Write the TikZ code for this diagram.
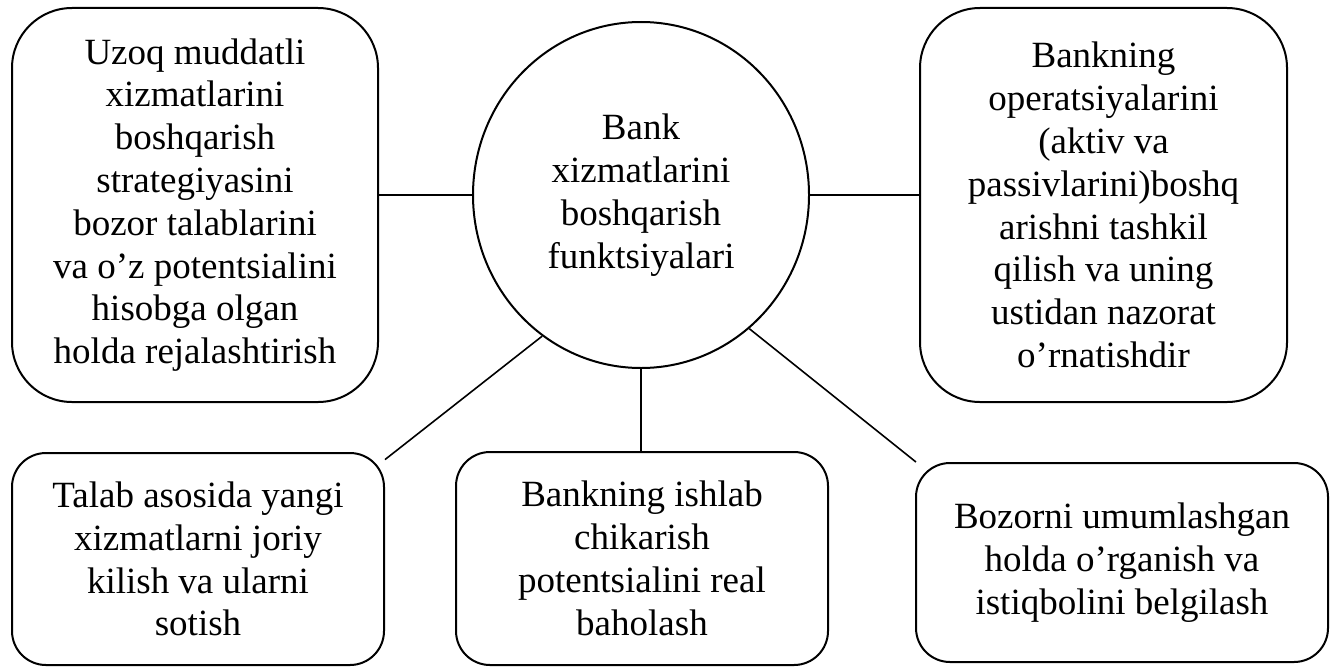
\documentclass[tikz,border=0pt]{standalone}
\usepackage{fontspec}
\setmainfont{Liberation Serif}
\usetikzlibrary{shapes.geometric}

\begin{document}
\begin{tikzpicture}[x=1pt,y=1pt]
    \tikzstyle{funcbox}=[draw,line width=1pt,rounded corners=30pt,align=center,
      inner sep=0pt,font=\fontsize{18.5}{21.4}\selectfont]
    \tikzstyle{lowbox}=[funcbox,rounded corners=17pt]
    \tikzstyle{link}=[line width=0.8pt]
    \useasboundingbox (0,0) rectangle (668,333);
    \node[funcbox,ellipse,minimum width=168pt,minimum height=173pt] (core)
      at (320.5,235.5) {Bank\\xizmatlarini\\boshqarish\\funktsiyalari};
    \node[funcbox,minimum width=183pt,minimum height=197pt] (tl) at (97.5,230.5)
      {Uzoq muddatli\\xizmatlarini\\boshqarish\\strategiyasini\\bozor talablarini\\va o’z potentsialini\\hisobga olgan\\holda rejalashtirish};
    \node[funcbox,minimum width=183.5pt,minimum height=197pt] (tr) at (551.75,230.5)
      {Bankning\\operatsiyalarini\\(aktiv va\\passivlarini)boshq\\arishni tashkil\\qilish va uning\\ustidan nazorat\\o’rnatishdir};
    \node[lowbox,minimum width=186pt,minimum height=106pt] (bl) at (99,53.5)
      {Talab asosida yangi\\xizmatlarni joriy\\kilish va ularni\\sotish};
    \node[lowbox,minimum width=186pt,minimum height=106.5pt] (bm) at (321,53.75)
      {Bankning ishlab\\chikarish\\potentsialini real\\baholash};
    \node[lowbox,minimum width=206pt,minimum height=99.5pt] (br) at (561,51.75)
      {Bozorni umumlashgan\\holda o’rganish va\\istiqbolini belgilash};
    \draw[link] (core.west) -- (core.west -| tl.east);
    \draw[link] (core.east) -- (core.east -| tr.west);
    \draw[link] (core.235) -- (bl.28);
    \draw[link] (core.south) -- (core.south |- bm.north);
    \draw[link] (core.309) -- (br.154);
  \end{tikzpicture}
\end{document}
